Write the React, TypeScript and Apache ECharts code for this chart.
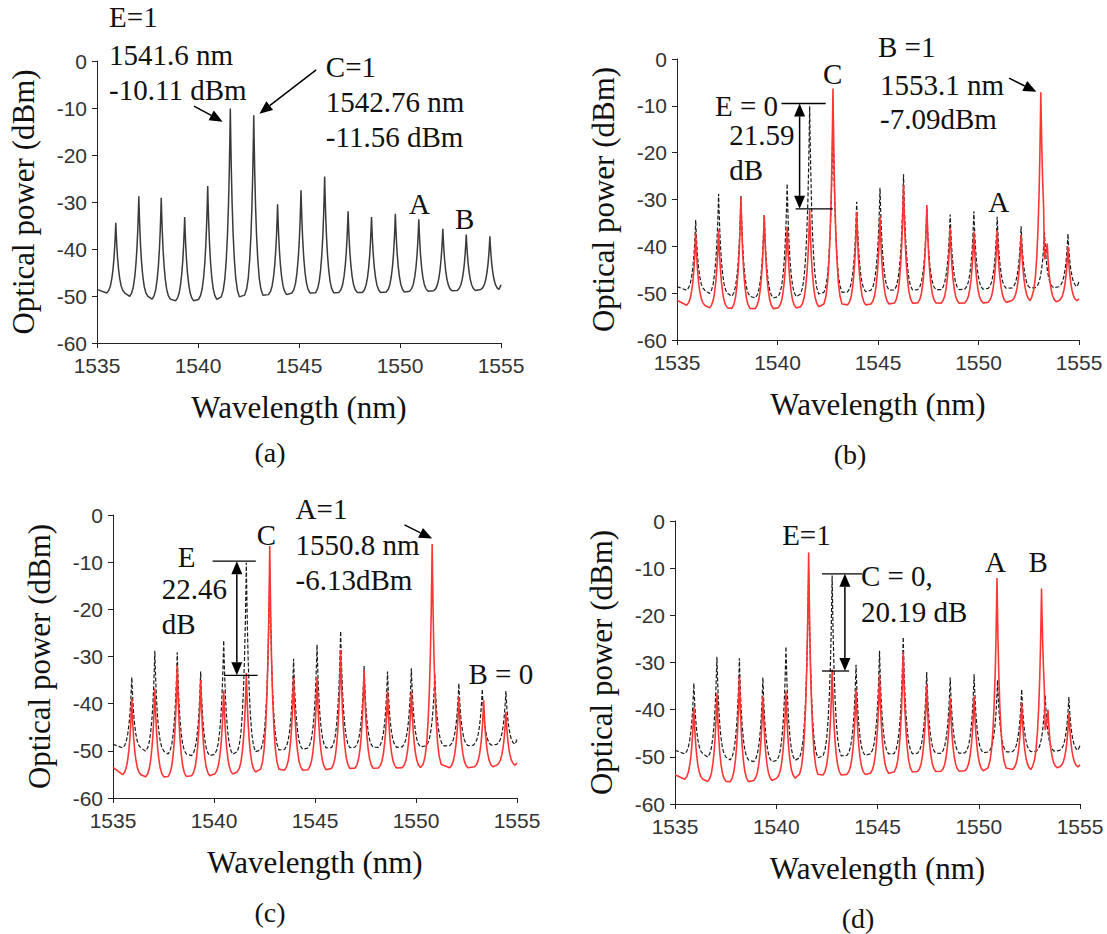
import React, { useEffect, useRef } from 'react';
import * as echarts from 'echarts';

// ---- axis ranges / ticks ----
const X_MIN = 1535;
const X_MAX = 1555;
const X_STEP = 5;
const Y_MIN = -60;
const Y_MAX = 0;
const Y_STEP = 10;

// ---- reference spectrum (black): mode wavelengths (nm), peak levels and floor levels (dBm) ----
const PEAK_WL = [1535.93, 1537.07, 1538.18, 1539.34, 1540.48, 1541.6, 1542.76, 1543.94, 1545.1, 1546.27, 1547.43, 1548.59, 1549.77, 1550.93, 1552.12, 1553.28, 1554.45];
const BLACK_TOP = [-34.4, -28.8, -29.1, -33.2, -26.6, -10.11, -11.56, -30.5, -27.5, -24.6, -32.0, -33.2, -32.5, -33.7, -35.7, -36.9, -37.3];
const BLACK_FLOOR = [-49.6, -50.4, -51.0, -51.3, -51.1, -50.8, -50.4, -50.0, -49.7, -49.7, -49.5, -49.5, -49.4, -49.2, -49.1, -49.0, -48.8];
const BLACK_EDGES = [-48.6, -47.6];

// ---- red spectra: [wavelength, peak dBm, floor left dBm, floor right dBm] ----
const RED_B = [
  [1535.93, -37.2, -52.8], [1537.07, -36.4, -53.4], [1538.18, -29.5, -53.6], [1539.34, -33.3, -53.6],
  [1540.48, -35.8, -53.4], [1541.6, -32.1, -53.2], [1542.76, -6.3, -53.0], [1543.94, -32.7, -52.8],
  [1545.1, -33.7, -52.6], [1546.27, -26.9, -52.5], [1547.43, -31.2, -52.4], [1548.59, -36.0, -52.4],
  [1549.77, -36.9, -52.3], [1550.93, -36.5, -52.2], [1552.12, -37.6, -51.8], [1553.1, -7.09, -51.5, -44.5],
  [1553.42, -39.4, -44.5, -52.0], [1554.45, -40.1, -51.8],
];
const RED_B_EDGES = [-51.5, -51.2];

const RED_C = [
  [1535.93, -38.9, -55.3], [1537.07, -36.8, -55.8], [1538.18, -31.8, -55.8], [1539.34, -35.0, -55.6],
  [1540.48, -37.2, -55.2], [1541.6, -33.5, -54.8], [1542.76, -6.6, -54.6], [1543.94, -34.5, -54.4],
  [1545.1, -34.5, -54.3], [1546.27, -28.7, -54.1], [1547.43, -32.9, -54.0], [1548.59, -37.5, -53.9],
  [1549.77, -37.5, -53.8], [1550.8, -6.13, -53.6], [1552.12, -38.6, -53.8], [1553.35, -39.3, -53.6],
  [1554.45, -41.8, -53.2],
];
const RED_C_EDGES = [-53.5, -52.6];

const RED_D = [
  [1535.93, -39.4, -55.0], [1537.07, -36.5, -55.5], [1538.18, -33.0, -55.6], [1539.34, -37.2, -55.3],
  [1540.48, -36.1, -54.8], [1541.6, -6.7, -54.4], [1542.76, -31.5, -54.2], [1543.94, -35.8, -54.0],
  [1545.1, -32.6, -53.8], [1546.27, -27.7, -53.6], [1547.43, -34.7, -53.4], [1548.59, -37.5, -53.3],
  [1549.77, -37.2, -53.2], [1550.9, -12.1, -53.0], [1552.12, -38.6, -52.9], [1553.1, -14.3, -52.7, -46.5],
  [1553.42, -40.0, -46.5, -52.5], [1554.45, -40.7, -52.3],
];
const RED_D_EDGES = [-53.8, -51.7];

// ---- peak line shape: offset from centre (nm) -> fraction of height above floor ----
const PROFILE_OFFSET = [0, 0.02, 0.05, 0.09, 0.14, 0.2, 0.27, 0.35, 0.45];
const PROFILE_FRACTION = [1, 0.86, 0.68, 0.5, 0.34, 0.21, 0.11, 0.05, 0.015];

const SERIF = '"Liberation Serif", "Times New Roman", serif';
const SANS = '"Liberation Sans", Arial, sans-serif';

function buildTrace(peaks: number[][], edges: number[]) {
  const pts: number[][] = [[X_MIN, edges[0]]];
  const n = peaks.length;
  for (let i = 0; i < n; i++) {
    const [wl, top, fl, frRaw] = peaks[i];
    const fr = frRaw === undefined ? fl : frRaw;
    const leftLim = i > 0 ? (wl - peaks[i - 1][0]) / 2 : wl - X_MIN;
    const rightLim = i < n - 1 ? (peaks[i + 1][0] - wl) / 2 : X_MAX - wl;
    for (let k = PROFILE_OFFSET.length - 1; k >= 1; k--) {
      const off = PROFILE_OFFSET[k];
      if (off < leftLim) pts.push([wl - off, fl + (top - fl) * PROFILE_FRACTION[k]]);
    }
    pts.push([wl, top]);
    for (let k = 1; k < PROFILE_OFFSET.length; k++) {
      const off = PROFILE_OFFSET[k];
      if (off < rightLim) pts.push([wl + off, fr + (top - fr) * PROFILE_FRACTION[k]]);
    }
  }
  pts.push([X_MAX, edges[1]]);
  return pts;
}

const BLACK_PEAKS = PEAK_WL.map((w, i) => [w, BLACK_TOP[i], BLACK_FLOOR[i]]);

// grid boxes in pixels
const GRIDS = [
  { left: 97, top: 61, width: 404, height: 282 },
  { left: 677, top: 59, width: 402, height: 281 },
  { left: 113, top: 515, width: 404, height: 283 },
  { left: 675, top: 521, width: 405, height: 283 },
];

// annotations in data coordinates
type Txt = { g: number; x: number; y: number; t: string; a?: string };
const TEXTS: Txt[] = [
  { g: 0, x: 1535.6, y: 9.3, t: 'E=1' },
  { g: 0, x: 1535.6, y: 1.3, t: '1541.6 nm' },
  { g: 0, x: 1535.6, y: -6.2, t: '-10.11 dBm' },
  { g: 0, x: 1546.33, y: -1.2, t: 'C=1' },
  { g: 0, x: 1546.33, y: -8.7, t: '1542.76 nm' },
  { g: 0, x: 1546.33, y: -16.1, t: '-11.56 dBm' },
  { g: 0, x: 1550.96, y: -30.5, t: 'A', a: 'center' },
  { g: 0, x: 1553.2, y: -33.7, t: 'B', a: 'center' },

  { g: 1, x: 1545.0, y: 2.6, t: 'B =1' },
  { g: 1, x: 1545.1, y: -5.6, t: '1553.1 nm' },
  { g: 1, x: 1545.1, y: -12.9, t: '-7.09dBm' },
  { g: 1, x: 1542.75, y: -3.2, t: 'C', a: 'center' },
  { g: 1, x: 1540.03, y: -10.0, t: 'E = 0', a: 'right' },
  { g: 1, x: 1537.6, y: -16.2, t: '21.59' },
  { g: 1, x: 1537.6, y: -23.8, t: 'dB' },
  { g: 1, x: 1551.0, y: -30.5, t: 'A', a: 'center' },

  { g: 2, x: 1544.04, y: 1.2, t: 'A=1' },
  { g: 2, x: 1544.04, y: -6.4, t: '1550.8 nm' },
  { g: 2, x: 1544.04, y: -13.8, t: '-6.13dBm' },
  { g: 2, x: 1542.59, y: -4.2, t: 'C', a: 'center' },
  { g: 2, x: 1538.65, y: -8.8, t: 'E', a: 'center' },
  { g: 2, x: 1537.41, y: -15.6, t: '22.46' },
  { g: 2, x: 1537.41, y: -23.1, t: 'dB' },
  { g: 2, x: 1552.6, y: -33.8, t: 'B = 0' },

  { g: 3, x: 1541.49, y: -3.0, t: 'E=1', a: 'center' },
  { g: 3, x: 1544.18, y: -11.6, t: 'C = 0,' },
  { g: 3, x: 1544.18, y: -19.2, t: '20.19 dB' },
  { g: 3, x: 1550.82, y: -8.6, t: 'A', a: 'center' },
  { g: 3, x: 1552.94, y: -8.6, t: 'B', a: 'center' },
];

// plain lines [g, x1, y1, x2, y2]
const LINES = [
  [1, 1540.2, -9.5, 1542.4, -9.5],
  [1, 1540.9, -32, 1542.75, -32],
  [2, 1539.93, -9.8, 1542.07, -9.8],
  [2, 1540.5, -34, 1542.16, -34],
  [3, 1542.26, -11.2, 1544.24, -11.2],
  [3, 1542.26, -31.8, 1543.6, -31.8],
];
// single arrows [g, fromX, fromY, toX, toY]
const ARROWS = [
  [0, 1539.8, -9.6, 1541.22, -12.9],
  [0, 1545.85, -1.9, 1543.04, -11.2],
  [1, 1551.52, -4.1, 1552.88, -7.0],
  [2, 1549.43, -2.1, 1550.8, -5.0],
];
// double arrows [g, x, yTop, yBottom]
const DOUBLE_ARROWS = [
  [1, 1541.1, -9.5, -32],
  [2, 1541.13, -9.8, -34],
  [3, 1543.39, -11.2, -31.8],
];
// sub-figure labels (pixel centres)
const PANEL_LABELS = [
  { t: '(a)', x: 270, y: 452 },
  { t: '(b)', x: 850, y: 454 },
  { t: '(c)', x: 270, y: 912 },
  { t: '(d)', x: 858, y: 918 },
];

export default function App() {
  const ref = useRef<HTMLDivElement>(null);
  useEffect(() => {
    if (!ref.current) return;
    const chart = echarts.init(ref.current, null, { renderer: 'svg' });

    const blackData = buildTrace(BLACK_PEAKS, BLACK_EDGES);
    const xAxes = GRIDS.map((_, i) => ({
      type: 'value', gridIndex: i, min: X_MIN, max: X_MAX, interval: X_STEP,
      name: 'Wavelength (nm)', nameLocation: 'middle', nameGap: 49,
      nameTextStyle: { fontFamily: SERIF, fontSize: 31, color: '#111' },
      axisLine: { show: true, onZero: false, lineStyle: { color: '#222', width: 1 } },
      axisTick: { show: true, inside: false, length: 5, lineStyle: { color: '#222' } },
      axisLabel: { fontFamily: SANS, fontSize: 21, color: '#333', margin: 12, formatter: (v: number) => String(v) },
      splitLine: { show: false },
    }));
    const yAxes = GRIDS.map((_, i) => ({
      type: 'value', gridIndex: i, min: Y_MIN, max: Y_MAX, interval: Y_STEP,
      name: 'Optical power (dBm)', nameLocation: 'middle', nameGap: 58, nameRotate: 90,
      nameTextStyle: { fontFamily: SERIF, fontSize: 31, color: '#111' },
      axisLine: { show: true, onZero: false, lineStyle: { color: '#222', width: 1 } },
      axisTick: { show: true, inside: false, length: 5, lineStyle: { color: '#222' } },
      axisLabel: { fontFamily: SANS, fontSize: 21, color: '#333', margin: 10, formatter: (v: number) => String(v) },
      splitLine: { show: false },
    }));

    const line = (idx: number, data: number[][], color: string, width: number, dashed: boolean, name: string) => ({
      type: 'line', name, xAxisIndex: idx, yAxisIndex: idx, data, showSymbol: false, symbol: 'none',
      lineStyle: { color, width, type: dashed ? [4, 2] : 'solid' }, silent: true,
    });

    const series = [
      line(0, blackData, '#3a3a3a', 1.5, false, 'a'),
      line(1, blackData, '#1a1a1a', 1.2, true, 'b-ref'),
      line(1, buildTrace(RED_B, RED_B_EDGES), '#ff3535', 1.6, false, 'b'),
      line(2, blackData, '#1a1a1a', 1.2, true, 'c-ref'),
      line(2, buildTrace(RED_C, RED_C_EDGES), '#ff3535', 1.6, false, 'c'),
      line(3, blackData, '#1a1a1a', 1.2, true, 'd-ref'),
      line(3, buildTrace(RED_D, RED_D_EDGES), '#ff3535', 1.6, false, 'd'),
    ];

    chart.setOption({
      animation: false,
      backgroundColor: '#fff',
      grid: GRIDS.map((g) => ({ ...g, containLabel: false })),
      xAxis: xAxes,
      yAxis: yAxes,
      series,
    });

    const px = (g: number, x: number, y: number) => chart.convertToPixel({ gridIndex: g }, [x, y]) as number[];
    const graphics: any[] = [];
    const head = (tip: number[], from: number[]) => {
      const dx = tip[0] - from[0];
      const dy = tip[1] - from[1];
      const len = Math.hypot(dx, dy) || 1;
      const ux = dx / len, uy = dy / len;
      const L = 13, W = 5.5;
      const bx = tip[0] - ux * L, by = tip[1] - uy * L;
      graphics.push({
        type: 'polygon', z: 100, silent: true,
        shape: { points: [tip, [bx - uy * W, by + ux * W], [bx + uy * W, by - ux * W]] },
        style: { fill: '#000' },
      });
      return [bx, by];
    };
    const seg = (a: number[], b: number[], w = 1.3) => graphics.push({
      type: 'line', z: 100, silent: true,
      shape: { x1: a[0], y1: a[1], x2: b[0], y2: b[1] },
      style: { stroke: '#000', lineWidth: w },
    });

    LINES.forEach(([g, x1, y1, x2, y2]) => seg(px(g, x1, y1), px(g, x2, y2), 1.3));
    ARROWS.forEach(([g, x1, y1, x2, y2]) => {
      const a = px(g, x1, y1);
      const b = px(g, x2, y2);
      const base = head(b, a);
      seg(a, base, 1.5);
    });
    DOUBLE_ARROWS.forEach(([g, x, yt, yb]) => {
      const t = px(g, x, yt);
      const b = px(g, x, yb);
      const bt = head(t, b);
      const bb = head(b, t);
      seg(bt, bb, 1.5);
    });
    TEXTS.forEach((o) => {
      const p = px(o.g, o.x, o.y);
      graphics.push({
        type: 'text', z: 100, silent: true, x: p[0], y: p[1],
        style: {
          text: o.t, fontFamily: SERIF, fontSize: 29, fill: '#111',
          align: o.a || 'left', verticalAlign: 'middle',
        },
      });
    });
    PANEL_LABELS.forEach((o) => {
      graphics.push({
        type: 'text', z: 100, silent: true, x: o.x, y: o.y,
        style: { text: o.t, fontFamily: SERIF, fontSize: 28, fill: '#111', align: 'center', verticalAlign: 'middle' },
      });
    });
    chart.setOption({ graphic: graphics });

    return () => chart.dispose();
  }, []);

  return <div ref={ref} style={{ position: 'absolute', left: 0, top: 0, width: 1107, height: 934, background: '#fff' }} />;
}
